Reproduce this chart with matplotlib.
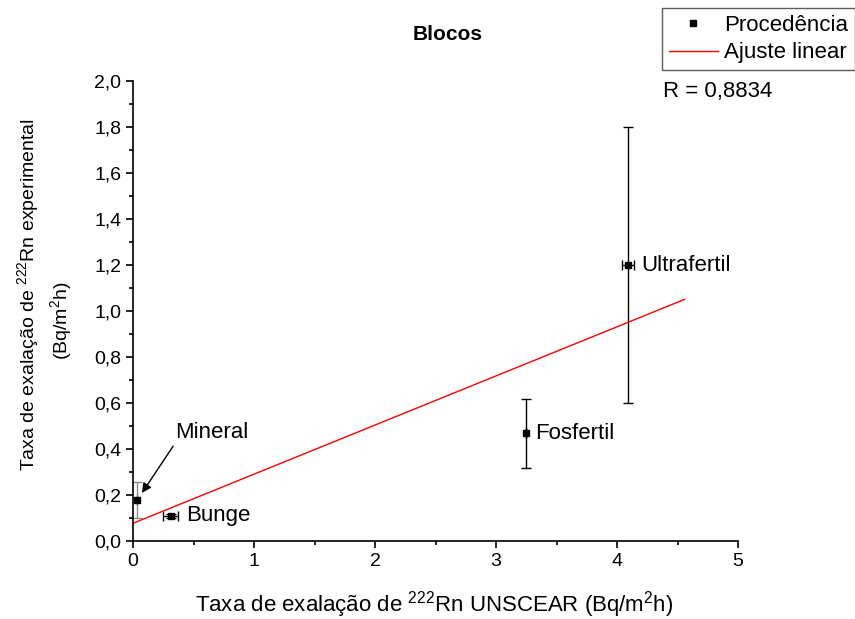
import numpy as np
import matplotlib.pyplot as plt
from matplotlib.ticker import FuncFormatter, MultipleLocator

plt.rcParams['font.family'] = ['Liberation Sans', 'DejaVu Sans']
plt.rcParams['mathtext.fontset'] = 'custom'
plt.rcParams['mathtext.rm'] = 'Liberation Sans'
plt.rcParams['mathtext.it'] = 'Liberation Sans:italic'

# dados
nomes = ['Mineral', 'Bunge', 'Fosfertil', 'Ultrafertil']
x_unscear = [0.03, 0.31, 3.25, 4.09]
x_erro = [0.0, 0.058, 0.0, 0.048]
y_exp = [0.178, 0.109, 0.468, 1.198]
y_erro = [0.08, 0.01, 0.15, 0.60]

# extremos da reta de ajuste
ajuste_x = [0.0, 4.56]
ajuste_y = [0.077, 1.051]
R = 0.8834

fig = plt.figure(figsize=(8.55, 6.19), dpi=100)
ax = fig.add_axes([133 / 855, 78 / 619, 605 / 855, 460 / 619])

cores_erro = ['#8c8c8c', 'black', 'black', 'black']
for i in range(len(nomes)):
    ax.errorbar(x_unscear[i], y_exp[i], xerr=x_erro[i], yerr=y_erro[i],
                fmt='none', ecolor=cores_erro[i], elinewidth=1, capsize=3.3, capthick=1)
ponto, = ax.plot(x_unscear, y_exp, 's', color='black', markersize=4, label='Procedência')
reta, = ax.plot(ajuste_x, ajuste_y, color='red', linewidth=1, label='Ajuste linear')

ax.set_xlim(0, 5)
ax.set_ylim(0, 2.0)
ax.xaxis.set_major_locator(MultipleLocator(1))
ax.xaxis.set_minor_locator(MultipleLocator(0.5))
ax.yaxis.set_major_locator(MultipleLocator(0.2))
ax.yaxis.set_minor_locator(MultipleLocator(0.1))
ax.xaxis.set_major_formatter(FuncFormatter(lambda v, p: f'{v:.0f}'))
ax.yaxis.set_major_formatter(FuncFormatter(lambda v, p: f'{v:.1f}'.replace('.', ',')))
ax.tick_params(which='major', direction='out', length=5, width=1.2, labelsize=14)
ax.tick_params(axis='x', which='major', pad=4)
ax.tick_params(axis='y', which='major', pad=3.5)
ax.tick_params(which='minor', direction='out', length=3, width=1.2)
ax.spines['top'].set_visible(False)
ax.spines['right'].set_visible(False)
ax.spines['left'].set_linewidth(1.2)
ax.spines['bottom'].set_linewidth(1.2)

# títulos dos eixos
fig.text(434 / 855, 1 - 612 / 619, 'Taxa de exalação de $^{222}$Rn UNSCEAR (Bq/m$^{2}$h)',
         fontsize=16, ha='center', va='baseline')
fig.text(28 / 855, 1 - 295 / 619, 'Taxa de exalação de $^{222}$Rn experimental',
         fontsize=14, rotation=90, ha='center', va='center')
fig.text(61 / 855, 1 - 321 / 619, '(Bq/m$^{2}$h)',
         fontsize=14, rotation=90, ha='center', va='center')
fig.text(448 / 855, 1 - 35 / 619, 'Blocos', fontsize=15, fontweight='bold',
         ha='center', va='center')

# rótulos dos pontos
ax.annotate('Mineral', xy=(0.074, 0.209), xytext=(0.347, 0.47),
            fontsize=16, ha='left', va='center',
            arrowprops=dict(arrowstyle='-|>', color='black', lw=1, relpos=(0, 0),
                            shrinkA=0, shrinkB=0, mutation_scale=14))
desloc_rotulo = [0.0, 0.13, 0.07, 0.11]
for i in range(1, len(nomes)):
    ax.text(x_unscear[i] + desloc_rotulo[i], y_exp[i], nomes[i], fontsize=16,
            ha='left', va='center')

fig.text(663 / 855, 1 - 91 / 619, f'R = {R:.4f}'.replace('.', ','), fontsize=16,
         ha='left', va='center')

leg = fig.legend(handles=[ponto, reta], loc='upper left', bbox_to_anchor=(662 / 855, 1 - 8 / 619),
                 fontsize=16, frameon=True, fancybox=False, edgecolor='#333333',
                 handlelength=2.2, borderpad=0.3, labelspacing=0.3, handletextpad=0.3,
                 borderaxespad=0)
leg.get_frame().set_linewidth(1)

fig.savefig('out.png', dpi=100)
